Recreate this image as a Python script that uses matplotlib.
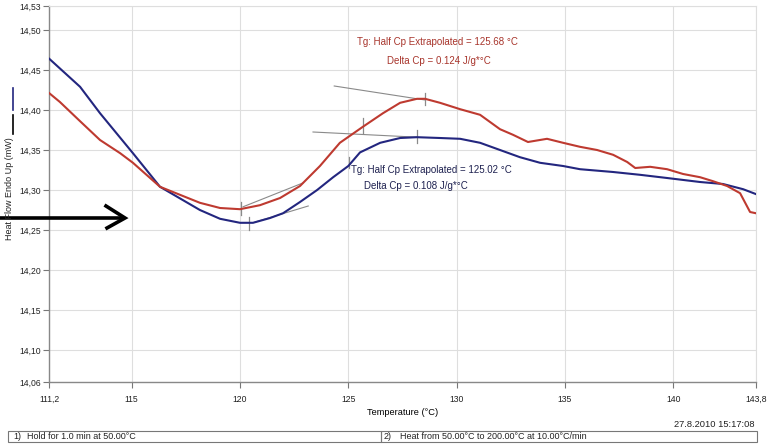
import matplotlib
matplotlib.use("Agg")
import matplotlib.pyplot as plt
from matplotlib.lines import Line2D
from matplotlib.patches import Rectangle

plt.rcParams['font.family'] = ['Liberation Sans', 'DejaVu Sans']

# --- DSC heat-flow curves (Temperature in °C, Heat Flow in mW) ---
temp_blue = [111.2, 112.62, 113.54, 115.06, 116.31, 118.15, 119.08, 120.0, 120.6,
             121.39, 121.99, 122.77, 123.56, 124.3, 125.0, 125.54, 126.47, 127.39,
             128.17, 129.23, 130.16, 131.08, 132.0, 132.92, 133.85, 134.91, 135.69,
             137.22, 138.46, 139.71, 141.23, 142.29, 143.22, 143.8]
hf_blue = [14.464, 14.429, 14.396, 14.346, 14.304, 14.275, 14.264, 14.259, 14.259,
           14.265, 14.271, 14.285, 14.300, 14.316, 14.330, 14.347, 14.359, 14.365,
           14.366, 14.365, 14.364, 14.359, 14.350, 14.341, 14.334, 14.330, 14.326,
           14.3225, 14.319, 14.315, 14.310, 14.3075, 14.301, 14.295]

temp_red = [111.2, 111.69, 112.62, 113.54, 114.47, 115.06, 116.31, 118.15, 119.08,
            120.0, 120.92, 121.85, 122.77, 123.69, 124.61, 125.67, 126.6, 127.39,
            128.17, 128.54, 129.23, 130.16, 131.08, 132.0, 132.6, 133.29, 134.17,
            134.91, 135.69, 136.48, 137.22, 137.87, 138.24, 138.93, 139.71, 140.45,
            141.23, 141.83, 142.48, 143.08, 143.54, 143.8]
hf_red = [14.421, 14.410, 14.386, 14.3625, 14.346, 14.334, 14.304, 14.284, 14.2775,
          14.276, 14.281, 14.290, 14.305, 14.330, 14.359, 14.379, 14.396, 14.409,
          14.414, 14.414, 14.409, 14.401, 14.394, 14.376, 14.369, 14.360, 14.364,
          14.359, 14.354, 14.350, 14.344, 14.335, 14.3275, 14.329, 14.326, 14.320,
          14.316, 14.311, 14.305, 14.296, 14.2725, 14.271]

# Baseline tangents used for the Tg evaluation: (T1, T2), (H1, H2)
red_tangents = [((124.35, 128.54), (14.430, 14.4125)),
                ((120.14, 122.92), (14.279, 14.309))]
blue_tangents = [((123.37, 128.17), (14.3725, 14.366)),
                 ((120.70, 123.15), (14.260, 14.280))]

# Evaluation markers: (T, H_low, H_high)
red_markers = [(120.05, 14.269, 14.285), (125.68, 14.371, 14.390), (128.54, 14.406, 14.421)]
blue_markers = [(120.40, 14.250, 14.266), (125.02, 14.3275, 14.341), (128.17, 14.359, 14.375)]

x_ticks = [111.2, 115, 120, 125, 130, 135, 140, 143.8]
x_tick_labels = ['111,2', '115', '120', '125', '130', '135', '140', '143,8']
y_ticks = [14.06, 14.10, 14.15, 14.20, 14.25, 14.30, 14.35, 14.40, 14.45, 14.50, 14.53]
y_tick_labels = ['14,06', '14,10', '14,15', '14,20', '14,25', '14,30', '14,35',
                 '14,40', '14,45', '14,50', '14,53']

red_tg_text = "Tg: Half Cp Extrapolated = 125.68 \u00b0C"
red_dcp_text = "Delta Cp = 0.124 J/g*\u00b0C"
blue_tg_text = "Tg: Half Cp Extrapolated = 125.02 \u00b0C"
blue_dcp_text = "Delta Cp = 0.108 J/g*\u00b0C"

RED = '#be3a30'
BLUE = '#23267f'
RED_TXT = '#a8352c'
BLUE_TXT = '#1e2150'
GRID = '#dedede'
TAN = '#8a8a8a'

W, H = 768, 444
fig = plt.figure(figsize=(W / 100, H / 100), dpi=100)


def fx(px):
    return px / W


def fy(py):
    return 1 - py / H


ax = fig.add_axes([fx(49.3), fy(382), fx(755.7) - fx(49.3), fy(6) - fy(382)])
ax.set_xlim(111.2, 143.8)
ax.set_ylim(14.06, 14.53)

ax.set_xticks(x_ticks)
ax.set_xticklabels(x_tick_labels)
ax.set_yticks(y_ticks)
ax.set_yticklabels(y_tick_labels)
ax.tick_params(axis='both', labelsize=6.2, length=4, width=0.8, color='#777777',
               labelcolor='#222222', pad=2)
ax.tick_params(axis='x', pad=5)
ax.grid(True, color=GRID, lw=0.8)
ax.set_axisbelow(True)
for side in ('left', 'bottom'):
    ax.spines[side].set_color('#888888')
    ax.spines[side].set_linewidth(1.0)
for side in ('top', 'right'):
    ax.spines[side].set_color(GRID)
    ax.spines[side].set_linewidth(0.8)

# tangents and evaluation markers
for (tx, hy) in red_tangents + blue_tangents:
    ax.plot(tx, hy, color=TAN, lw=0.8, zorder=3)
for (t, h0, h1) in red_markers + blue_markers:
    ax.plot([t, t], [h0, h1], color=TAN, lw=0.9, zorder=3)

ax.plot(temp_blue, hf_blue, color=BLUE, lw=1.5, zorder=4)
ax.plot(temp_red, hf_red, color=RED, lw=1.5, zorder=5)

ax.text(129.11, 14.4855, red_tg_text, color=RED_TXT, fontsize=7, ha='center', va='center')
ax.text(129.2, 14.4617, red_dcp_text, color=RED_TXT, fontsize=7, ha='center', va='center')
ax.text(128.85, 14.325, blue_tg_text, color=BLUE_TXT, fontsize=7, ha='center', va='center', zorder=6)
ax.text(128.1, 14.3055, blue_dcp_text, color=BLUE_TXT, fontsize=7, ha='center', va='center', zorder=6)

ax.set_xlabel("Temperature (\u00b0C)", fontsize=6.7, labelpad=3)
fig.text(fx(10), fy(189), "Heat Flow Endo Up (mW)", rotation=90, fontsize=6.5,
         ha='center', va='center', color='#222222')

# series key strokes beside the y label
fig.add_artist(Line2D([fx(12.5), fx(12.5)], [fy(88), fy(110)], color=BLUE, lw=1.2))
fig.add_artist(Line2D([fx(12.5), fx(12.5)], [fy(115), fy(134)], color='black', lw=1.2))

# pointer arrow
fig.add_artist(Line2D([fx(0), fx(124)], [fy(218), fy(218)], color='black', lw=2.6,
                      solid_capstyle='butt'))
fig.add_artist(Line2D([fx(106), fx(125), fx(107)], [fy(206), fy(218), fy(228)],
                      color='black', lw=2.6, solid_joinstyle='miter'))

# footer: timestamp and method steps
fig.text(fx(755), fy(424), "27.8.2010 15:17:08", fontsize=6.7, ha='right', va='center',
         color='#222222')
fig.add_artist(Rectangle((fx(8), fy(442)), fx(381) - fx(8), fy(431) - fy(442),
                         fill=False, ec='#777777', lw=0.8, transform=fig.transFigure))
fig.add_artist(Rectangle((fx(381), fy(442)), fx(757) - fx(381), fy(431) - fy(442),
                         fill=False, ec='#777777', lw=0.8, transform=fig.transFigure))
fig.text(fx(13), fy(436.5), "1)", fontsize=6.5, ha='left', va='center', color='#222222')
fig.text(fx(27), fy(436.5), "Hold for 1.0 min at 50.00\u00b0C", fontsize=6.5, ha='left',
         va='center', color='#222222')
fig.text(fx(384), fy(436.5), "2)", fontsize=6.5, ha='left', va='center', color='#222222')
fig.text(fx(400), fy(436.5), "Heat from 50.00\u00b0C to 200.00\u00b0C at 10.00\u00b0C/min",
         fontsize=6.5, ha='left', va='center', color='#222222')

fig.savefig("out.png", dpi=100)
